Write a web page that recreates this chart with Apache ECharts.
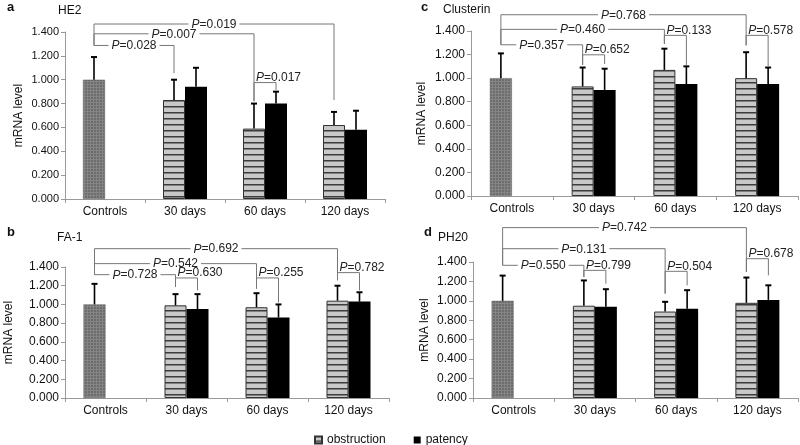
<!DOCTYPE html>
<html><head><meta charset="utf-8">
<script src="https://cdn.jsdelivr.net/npm/echarts@6/dist/echarts.min.js"></script>
<style>html,body{margin:0;padding:0;background:#fff}#c{width:800px;height:445px}</style>
</head><body><div id="c"></div><script>
// ---------- DATA ----------
const categories = ['Controls', '30 days', '60 days', '120 days'];
const yTicks = [0, 1.4, 0.2]; // min, max, step

// HE2 (panel a) - first obstruction value is the Controls bar
const he2Obstruction = [1.00, 0.83, 0.59, 0.62];
const he2ObstructionSD = [0.19, 0.17, 0.21, 0.11];
const he2Patency = [null, 0.94, 0.80, 0.58];
const he2PatencySD = [null, 0.16, 0.10, 0.16];
// [p, fromCat, fromSlot, toCat, toSlot, lineLevel, fromEnd, toEnd, short]
const he2Brackets = [
  ['0.019', 0, 0, 3, 0, 1.467, 1.287, 0.83, 0],
  ['0.007', 0, 0, 2, 0, 1.385, 1.287, 0.82, 0],
  ['0.028', 0, 0, 1, 0, 1.287, 1.287, 1.055, 0],
  ['0.017', 2, 0, 2, 1, 0.976, 0.82, 0.915, 1]
];

// Clusterin (panel c)
const cluObstruction = [1.00, 0.93, 1.07, 1.00];
const cluObstructionSD = [0.21, 0.16, 0.18, 0.22];
const cluPatency = [null, 0.90, 0.95, 0.95];
const cluPatencySD = [null, 0.18, 0.15, 0.14];
const cluBrackets = [
  ['0.768', 0, 0, 3, 0, 1.538, 1.283, 1.278, 0],
  ['0.460', 0, 0, 2, 0, 1.414, 1.283, 1.29, 0],
  ['0.357', 0, 0, 1, 0, 1.283, 1.283, 1.113, 0],
  ['0.652', 1, 0, 1, 1, 1.198, 1.113, 1.12, 1],
  ['0.133', 2, 0, 2, 1, 1.363, 1.29, 1.11, 1],
  ['0.578', 3, 0, 3, 1, 1.363, 1.278, 1.095, 1]
];

// FA-1 (panel b)
const faObstruction = [1.00, 0.99, 0.97, 1.04];
const faObstructionSD = [0.22, 0.12, 0.15, 0.16];
const faPatency = [null, 0.95, 0.86, 1.03];
const faPatencySD = [null, 0.16, 0.14, 0.10];
const faBrackets = [
  ['0.692', 0, 0, 3, 0, 1.596, 1.318, 1.258, 0],
  ['0.542', 0, 0, 2, 0, 1.436, 1.318, 1.168, 0],
  ['0.728', 0, 0, 1, 0, 1.318, 1.318, 1.186, 0],
  ['0.630', 1, 0, 1, 1, 1.283, 1.186, 1.15, 1],
  ['0.255', 2, 0, 2, 1, 1.283, 1.168, 1.02, 1],
  ['0.782', 3, 0, 3, 1, 1.34, 1.258, 1.15, 1]
];

// PH20 (panel d)
const phObstruction = [1.00, 0.95, 0.89, 0.98];
const phObstructionSD = [0.26, 0.26, 0.10, 0.26];
const phPatency = [null, 0.94, 0.92, 1.01];
const phPatencySD = [null, 0.18, 0.19, 0.15];
const phBrackets = [
  ['0.742', 0, 0, 3, 0, 1.754, 1.366, 1.297, 0],
  ['0.131', 0, 0, 2, 0, 1.537, 1.366, 1.074, 0],
  ['0.550', 0, 0, 1, 0, 1.366, 1.366, 1.246, 0],
  ['0.799', 1, 0, 1, 1, 1.314, 1.246, 1.177, 1],
  ['0.504', 2, 0, 2, 1, 1.304, 1.074, 1.16, 1],
  ['0.678', 3, 0, 3, 1, 1.434, 1.297, 1.263, 1]
];

// ---------- STYLE / LAYOUT ----------
const FONT = '"Liberation Sans", Arial, sans-serif';
const BAR_W = 22;
const panels = [
  {letter: 'a', title: 'HE2', ob: he2Obstruction, obSD: he2ObstructionSD, pa: he2Patency, paSD: he2PatencySD, br: he2Brackets,
   grid: {left: 65, top: 32, width: 320, height: 167}, yFont: 11, nameGap: 40, lx: 2, ly: -4, tx: 53, ty: 0},
  {letter: 'c', title: 'Clusterin', ob: cluObstruction, obSD: cluObstructionSD, pa: cluPatency, paSD: cluPatencySD, br: cluBrackets,
   grid: {left: 471, top: 31, width: 327, height: 165}, yFont: 12, nameGap: 43, lx: 416, ly: -4, tx: 438, ty: -1},
  {letter: 'b', title: 'FA-1', ob: faObstruction, obSD: faObstructionSD, pa: faPatency, paSD: faPatencySD, br: faBrackets,
   grid: {left: 65, top: 267, width: 324, height: 131}, yFont: 12, nameGap: 50, lx: 2, ly: 221, tx: 52, ty: 227},
  {letter: 'd', title: 'PH20', ob: phObstruction, obSD: phObstructionSD, pa: phPatency, paSD: phPatencySD, br: phBrackets,
   grid: {left: 473, top: 262, width: 325, height: 136}, yFont: 12, nameGap: 42, lx: 419, ly: 221, tx: 433, ty: 227}
];

function makePattern(w, h, draw) {
  const cv = document.createElement('canvas');
  cv.width = w; cv.height = h;
  const ctx = cv.getContext('2d');
  draw(ctx);
  return {image: cv, repeat: 'repeat'};
}
const stripePattern = makePattern(6, 6, ctx => {
  ctx.fillStyle = '#c8c8c8'; ctx.fillRect(0, 0, 6, 6);
  ctx.fillStyle = '#3c3c3c'; ctx.fillRect(0, 4, 6, 1);
  ctx.fillStyle = '#808080'; ctx.fillRect(0, 5, 6, 1);
});
const gridPattern = makePattern(3, 3, ctx => {
  ctx.fillStyle = '#6c6c6c'; ctx.fillRect(0, 0, 3, 3);
  ctx.fillStyle = '#858585'; ctx.fillRect(0, 0, 3, 1); ctx.fillRect(0, 0, 1, 3);
});

const grids = [], xAxes = [], yAxes = [], series = [], titles = [];
panels.forEach((p, i) => {
  grids.push(Object.assign({containLabel: false}, p.grid));
  xAxes.push({
    type: 'category', gridIndex: i, data: categories,
    axisLine: {show: true, lineStyle: {color: '#9a9a9a', width: 1}},
    axisTick: {show: true, length: 4, lineStyle: {color: '#9a9a9a'}},
    axisLabel: {fontSize: 12, fontFamily: FONT, color: '#111', margin: 7, interval: 0},
    splitLine: {show: false}
  });
  yAxes.push({
    type: 'value', gridIndex: i, min: yTicks[0], max: yTicks[1], interval: yTicks[2],
    name: 'mRNA level', nameLocation: 'middle', nameRotate: 90, nameGap: p.nameGap,
    nameTextStyle: {fontSize: 12, fontFamily: FONT, color: '#111'},
    axisLine: {show: true, lineStyle: {color: '#9a9a9a', width: 1}},
    axisTick: {show: true, length: 4, lineStyle: {color: '#9a9a9a'}},
    axisLabel: {fontSize: p.yFont, fontFamily: FONT, color: '#111', margin: 6, formatter: v => v.toFixed(3)},
    splitLine: {show: false}
  });
  const obData = p.ob.map((v, k) => k === 0
    ? {value: v, itemStyle: {color: gridPattern, borderColor: '#5e5e5e', borderWidth: 0.5}}
    : v);
  series.push({
    type: 'bar', name: 'obstruction', xAxisIndex: i, yAxisIndex: i, data: obData,
    barWidth: BAR_W, barGap: '0%', z: 2,
    itemStyle: {color: stripePattern, borderColor: '#333', borderWidth: 1}
  });
  series.push({
    type: 'bar', name: 'patency', xAxisIndex: i, yAxisIndex: i,
    data: p.pa.map(v => v === null ? '-' : v),
    barWidth: BAR_W, barGap: '0%', z: 2,
    itemStyle: {color: '#000', borderColor: '#000', borderWidth: 0}
  });
  // error bars: [cat, slot, mean, sd]
  const errData = [];
  p.ob.forEach((v, k) => errData.push([k, 0, v, p.obSD[k]]));
  p.pa.forEach((v, k) => { if (v !== null) errData.push([k, 1, v, p.paSD[k]]); });
  series.push({
    type: 'custom', xAxisIndex: i, yAxisIndex: i, data: errData, z: 5, clip: false,
    encode: {x: 0, y: 2}, silent: true,
    renderItem: (params, api) => {
      const cat = api.value(0), slot = api.value(1), m = api.value(2), sd = api.value(3);
      const isCtrl = cat === 0;
      const off = isCtrl ? -BAR_W / 2 : (slot - 0.5) * BAR_W;
      const x = api.coord([cat, 0])[0] + off;
      const y0 = api.coord([cat, m])[1];
      const y1 = api.coord([cat, m + sd])[1];
      return {type: 'group', children: [
        {type: 'line', shape: {x1: x, y1: y0, x2: x, y2: y1}, style: {stroke: '#000', lineWidth: 1.6}},
        {type: 'line', shape: {x1: x - 3, y1: y1, x2: x + 3, y2: y1}, style: {stroke: '#000', lineWidth: 2}}
      ]};
    }
  });
  // significance brackets
  series.push({
    type: 'custom', xAxisIndex: i, yAxisIndex: i, z: 6, clip: false, silent: true,
    data: p.br.map(b => b.slice(1)), encode: {x: 0, y: 4},
    renderItem: (params, api) => {
      const b = p.br[params.dataIndex];
      const slotX = (cat, slot) => api.coord([cat, 0])[0] + (cat === 0 ? -BAR_W / 2 : (slot - 0.5) * BAR_W);
      const x1 = slotX(b[1], b[2]), x2 = slotX(b[3], b[4]);
      const yl = api.coord([0, b[5]])[1], yf = api.coord([0, b[6]])[1], yt = api.coord([0, b[7]])[1];
      const shortB = b[8] === 1;
      const txtStyle = {
        text: '{i|P}=' + b[0], fill: '#222', fontSize: 12, fontFamily: FONT,
        rich: {i: {fontStyle: 'italic', fontSize: 12, fontFamily: FONT, fill: '#222'}}
      };
      let text;
      if (shortB) {
        text = {type: 'text', z2: 10, style: Object.assign(txtStyle, {x: x1 + 2, y: yl + 1, align: 'left', verticalAlign: 'bottom'})};
      } else {
        text = {type: 'text', z2: 10, style: Object.assign(txtStyle, {x: (x1 + x2) / 2, y: yl + 0.5, align: 'center', verticalAlign: 'middle', backgroundColor: '#fff', padding: [0, 3]})};
      }
      return {type: 'group', children: [
        {type: 'polyline', z2: 1, shape: {points: [[x1, yf], [x1, yl], [x2, yl], [x2, yt]]}, style: {stroke: '#777', lineWidth: 1, fill: null}},
        text
      ]};
    }
  });
  titles.push({text: p.letter, left: p.lx, top: p.ly, textStyle: {fontSize: 13, fontWeight: 'bold', fontFamily: FONT, color: '#111'}});
  titles.push({text: p.title, left: p.tx, top: p.ty, textStyle: {fontSize: 12, fontWeight: 'normal', fontFamily: FONT, color: '#111'}});
});

const chart = echarts.init(document.getElementById('c'), null, {renderer: 'canvas'});
chart.setOption({
  backgroundColor: '#fff',
  animation: false,
  title: titles,
  grid: grids,
  xAxis: xAxes,
  yAxis: yAxes,
  legend: {
    data: ['obstruction', 'patency'], left: 309, top: 429, icon: 'rect',
    itemWidth: 7, itemHeight: 7, itemGap: 28,
    textStyle: {fontSize: 12, fontFamily: FONT, color: '#111'}
  },
  tooltip: {show: false},
  series: series
});
</script></body></html>
